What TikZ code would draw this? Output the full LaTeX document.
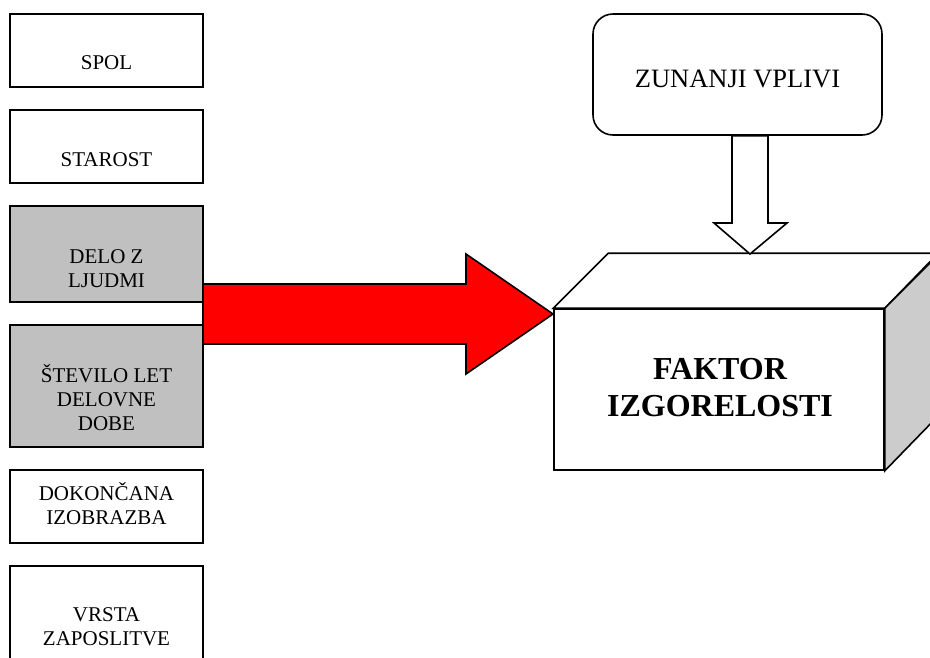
\documentclass[tikz,border=0pt]{standalone}
\usepackage{fontspec}
\setmainfont{Liberation Serif}
\usetikzlibrary{calc}
\definecolor{boxgray}{HTML}{C0C0C0}
\definecolor{sidegray}{HTML}{CCCCCC}
\definecolor{arrowred}{HTML}{FF0000}
\begin{document}
\begin{tikzpicture}[x=1pt,y=-1pt,
  line width=1.6pt, line join=miter,
  factor/.style={draw, rectangle, minimum width=193pt, inner sep=0pt, outer sep=0pt},
  shaded/.style={factor, fill=boxgray},
  lbl/.style={anchor=base, align=center, inner sep=0pt, font=\fontsize{21}{24}\selectfont},
]
\useasboundingbox (0,0) rectangle (930,657);
\clip (0,0) rectangle (930,657);

% left column of factors
\node[factor, minimum height=73pt]  (spol)    at (106.5,50.5) {};
\node[factor, minimum height=73pt]  (starost) at (106.5,146.5) {};
\node[shaded, minimum height=96pt]  (delo)    at (106.5,254) {};
\node[shaded, minimum height=122pt] (stevilo) at (106.5,386) {};
\node[factor, minimum height=73pt]  (izobr)   at (106.5,506.5) {};
\node[factor, minimum height=100pt] (vrsta)   at (106.5,616) {};

% labels (base anchor sits on the last line's baseline)
\node[lbl] (tspol)    at (106.5,69)  {SPOL};
\node[lbl] (tstarost) at (106.5,166) {STAROST};
\node[lbl] (tdelo)    at (106.5,287) {DELO Z\\LJUDMI};
\node[lbl] (tstev)    at (106.5,430) {ŠTEVILO LET\\DELOVNE\\DOBE};
\node[lbl] (tizobr)   at (106.5,524) {DOKONČANA\\IZOBRAZBA};
\node[lbl] (tvrsta)   at (106.5,645) {VRSTA\\ZAPOSLITVE};

% external influences
\node[draw, rounded corners=20pt, minimum width=289pt, minimum height=121pt,
      inner sep=0pt] (zun) at (737.5,74.5) {};
\node[anchor=base, inner sep=0pt, font=\fontsize{26.5}{30}\selectfont]
      (tzun) at (737.5,87) {ZUNANJI VPLIVI};

% burnout factor drawn as a box in perspective
\node[draw, rectangle, minimum width=330pt, minimum height=161pt, inner sep=0pt,
      fill=white] (front) at (719,389.5) {};
\draw[fill=white] (front.north west) -- ++(55,-55) -- ++(330,0) -- (front.north east) -- cycle;
\draw[fill=sidegray] (front.north east) -- ++(55,-55) -- ++(0,161) -- (front.south east) -- cycle;
\node[align=center, inner sep=0pt, font=\bfseries\fontsize{32}{37}\selectfont]
      (tfront) at (720,388) {FAKTOR\\IZGORELOSTI};

% hollow arrow from external influences down to the box
\coordinate (zbot) at (zun.south);
\coordinate (ztip) at (750,254);
\draw[fill=white]
  ($(zbot)+(-5.5,0)$) -- ($(zbot)+(30.5,0)$) -- (768,223) -- (787,223) -- (ztip)
  -- (714,223) -- (732,223) -- cycle;

% red block arrow from the shaded factors to the box
\coordinate (rs) at (delo.east |- 0,314);
\coordinate (rtip) at (553,314);
\draw[fill=arrowred]
  ($(rs)+(0,-30)$) -- (466,284) -- (466,254) -- (rtip) -- (466,374) -- (466,344)
  -- ($(rs)+(0,30)$) -- cycle;
\end{tikzpicture}
\end{document}
